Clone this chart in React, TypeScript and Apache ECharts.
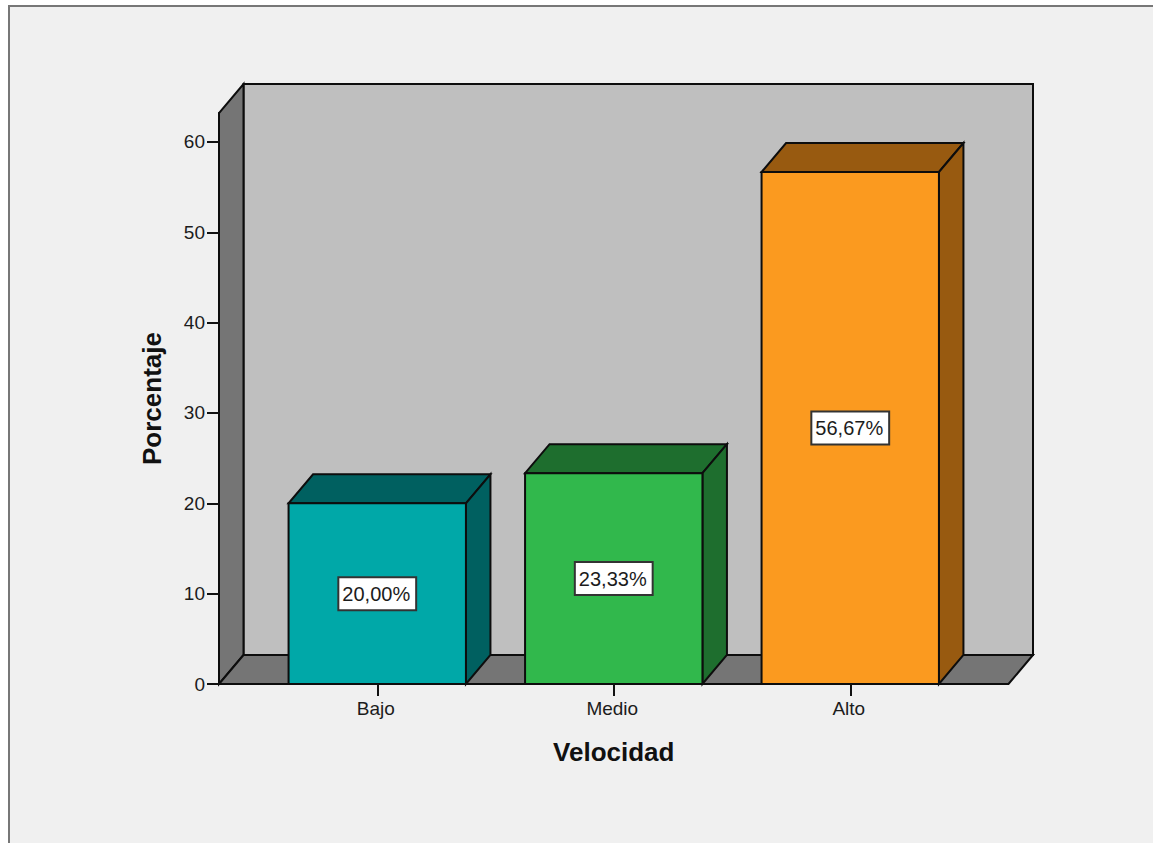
import React, { useEffect, useRef } from "react";
import * as echarts from "echarts";

// Speed levels and the share of cases in each one
const categories = ["Bajo", "Medio", "Alto"];
const percentages = [20.0, 23.33, 56.67];
const yTicks = [0, 10, 20, 30, 40, 50, 60];
const yAxisTop = 63.2;
const frontColors = ["#00a8a8", "#31b84c", "#fb9a1f"];
const shadeColors = ["#006060", "#1e6e2e", "#985a10"];

// Pseudo-3D box geometry, in pixels
const DEPTH_X = 24.5;
const DEPTH_Y = 29;
const PLOT_PAD = 40;
const BAR_SHARE = 0.75;
const EDGE = { stroke: "#0d0d0d", lineWidth: 2 };
const FONT = '"Liberation Sans", Arial, sans-serif';
const TEXT_COLOR = "#1c1c1c";

const formatPercent = (v: number) => v.toFixed(2).replace(".", ",") + "%";

// Back wall, left wall and floor of the chart box
function renderBox(params: any) {
  const cs = params.coordSys;
  const l = cs.x - PLOT_PAD;
  const r = cs.x + cs.width + PLOT_PAD;
  const t = cs.y;
  const b = cs.y + cs.height;
  const poly = (points: number[][], fill: string) => ({
    type: "polygon",
    shape: { points },
    style: { fill, ...EDGE },
  });
  return {
    type: "group",
    children: [
      poly(
        [
          [l + DEPTH_X, t - DEPTH_Y],
          [r + DEPTH_X, t - DEPTH_Y],
          [r + DEPTH_X, b - DEPTH_Y],
          [l + DEPTH_X, b - DEPTH_Y],
        ],
        "#bfbfbf",
      ),
      poly(
        [
          [l, b],
          [l, t],
          [l + DEPTH_X, t - DEPTH_Y],
          [l + DEPTH_X, b - DEPTH_Y],
        ],
        "#757575",
      ),
      poly(
        [
          [l, b],
          [r, b],
          [r + DEPTH_X, b - DEPTH_Y],
          [l + DEPTH_X, b - DEPTH_Y],
        ],
        "#757575",
      ),
    ],
  };
}

// One extruded bar with its value box centred on the front face
function renderBar(params: any, api: any) {
  const i = api.value(0);
  const v = api.value(1);
  const [cx, top] = api.coord([i, v]);
  const [, base] = api.coord([i, 0]);
  const width = api.size([1, 0])[0] * BAR_SHARE;
  const l = cx - width / 2;
  const r = cx + width / 2;
  const shade = shadeColors[i];
  return {
    type: "group",
    children: [
      {
        type: "polygon",
        shape: {
          points: [
            [l, top],
            [r, top],
            [r + DEPTH_X, top - DEPTH_Y],
            [l + DEPTH_X, top - DEPTH_Y],
          ],
        },
        style: { fill: shade, ...EDGE },
      },
      {
        type: "polygon",
        shape: {
          points: [
            [r, top],
            [r, base],
            [r + DEPTH_X, base - DEPTH_Y],
            [r + DEPTH_X, top - DEPTH_Y],
          ],
        },
        style: { fill: shade, ...EDGE },
      },
      {
        type: "rect",
        shape: { x: l, y: top, width, height: base - top },
        style: { fill: frontColors[i], ...EDGE },
      },
      {
        type: "text",
        x: cx,
        y: (top + base) / 2,
        style: {
          text: formatPercent(v),
          fill: TEXT_COLOR,
          font: `20px ${FONT}`,
          align: "center",
          verticalAlign: "middle",
          backgroundColor: "#ffffff",
          borderColor: "#333333",
          borderWidth: 2,
          padding: [6, 5, 5, 3],
        },
      },
    ],
  };
}

export default function App() {
  const ref = useRef<HTMLDivElement>(null);

  useEffect(() => {
    const chart = echarts.init(ref.current!, null, { renderer: "svg" });
    chart.setOption({
      animation: false,
      backgroundColor: "#ffffff",
      graphic: [
        {
          type: "rect",
          z: -10,
          silent: true,
          shape: { x: 9, y: 6, width: 1300, height: 1000 },
          style: { fill: "#f0f0f0", stroke: "#777777", lineWidth: 2 },
        },
      ],
      grid: { left: 259, top: 113, width: 709.5, height: 571 },
      xAxis: {
        type: "category",
        data: categories,
        z: 5,
        axisLine: { show: true, onZero: false, lineStyle: { color: "#0d0d0d", width: 2 } },
        axisTick: {
          show: true,
          alignWithLabel: true,
          length: 12,
          lineStyle: { color: "#111111", width: 2 },
        },
        axisLabel: {
          color: TEXT_COLOR,
          fontFamily: FONT,
          fontSize: 19,
          margin: 15,
          padding: [0, 3, 0, 0],
        },
        name: "Velocidad",
        nameLocation: "middle",
        nameGap: 55,
        nameTextStyle: { color: "#111111", fontFamily: FONT, fontSize: 26, fontWeight: "bold" },
      },
      yAxis: {
        type: "value",
        min: 0,
        max: yAxisTop,
        offset: PLOT_PAD,
        z: 5,
        splitLine: { show: false },
        axisLine: { show: true, onZero: false, lineStyle: { color: "#0d0d0d", width: 2 } },
        axisTick: {
          show: true,
          length: 12,
          customValues: yTicks,
          lineStyle: { color: "#111111", width: 2 },
        },
        axisLabel: {
          color: TEXT_COLOR,
          fontFamily: FONT,
          fontSize: 19,
          margin: 14,
          padding: [9, 0, 0, 0],
          customValues: yTicks,
        },
        name: "Porcentaje",
        nameLocation: "middle",
        nameGap: 54,
        nameTextStyle: { color: "#111111", fontFamily: FONT, fontSize: 26, fontWeight: "bold" },
      },
      series: [
        {
          type: "custom",
          silent: true,
          z: 1,
          renderItem: renderBox,
          data: [0],
          encode: { x: -1, y: -1 },
        },
        {
          type: "custom",
          silent: true,
          z: 3,
          renderItem: renderBar,
          data: percentages.map((v, i) => [i, v]),
          encode: { x: 0, y: 1 },
        },
      ],
    });
    return () => chart.dispose();
  }, []);

  return (
    <div
      ref={ref}
      style={{ position: "fixed", left: 0, top: 0, width: 1153, height: 843 }}
    />
  );
}
